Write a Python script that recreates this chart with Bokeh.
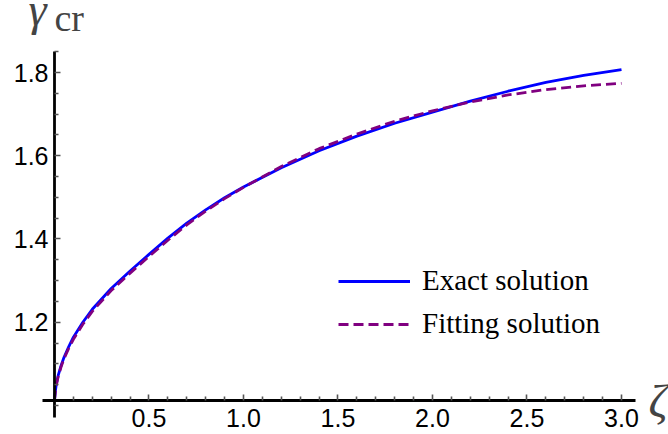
from bokeh.plotting import figure
from bokeh.models import (Range1d, FixedTicker, PrintfTickFormatter, Legend,
                          LegendItem, Label)
from bokeh.embed import file_html
from bokeh.resources import INLINE

# ---- data ----
zeta = [0, 0.005, 0.01, 0.02, 0.035, 0.05, 0.075, 0.1, 0.15, 0.2, 0.3, 0.4,
        0.5, 0.6, 0.7, 0.8, 0.9, 1.0, 1.2, 1.4, 1.6, 1.8, 2.0, 2.2, 2.4,
        2.6, 2.8, 3.0]
gamma_exact = [1.012, 1.036, 1.052, 1.073, 1.096, 1.115, 1.141, 1.164, 1.200,
               1.231, 1.281, 1.323, 1.363, 1.402, 1.438, 1.470, 1.499, 1.525,
               1.571, 1.612, 1.647, 1.678, 1.705, 1.731, 1.755, 1.776, 1.793,
               1.807]
gamma_fit = [1.012, 1.034, 1.049, 1.070, 1.093, 1.112, 1.137, 1.159, 1.195,
             1.226, 1.276, 1.318, 1.358, 1.397, 1.434, 1.467, 1.497, 1.524,
             1.574, 1.617, 1.652, 1.683, 1.708, 1.729, 1.746, 1.759, 1.768,
             1.774]

x_major = [0.5, 1.0, 1.5, 2.0, 2.5, 3.0]
x_minor = [0.1, 0.2, 0.3, 0.4, 0.6, 0.7, 0.8, 0.9, 1.1, 1.2, 1.3, 1.4, 1.6,
           1.7, 1.8, 1.9, 2.1, 2.2, 2.3, 2.4, 2.6, 2.7, 2.8, 2.9]
y_major = [1.2, 1.4, 1.6, 1.8]
y_minor = [1.0, 1.05, 1.1, 1.15, 1.25, 1.3, 1.35, 1.45, 1.5, 1.55, 1.65, 1.7,
           1.75, 1.85]
series_labels = ["Exact solution", "Fitting solution"]

# axes crossing point and axis extents (Mathematica-style axes)
x_axis_at = 1.013
y_axis_at = 0.0
x_axis_bounds = (-0.063, 3.075)
y_axis_bounds = (0.97, 1.851)

p = figure(width=668, height=434, output_backend="svg", toolbar_location=None,
           x_range=Range1d(-0.2857, 3.2487), y_range=Range1d(0.9302, 1.973),
           min_border_left=0, min_border_right=0, min_border_top=0,
           min_border_bottom=0)
p.outline_line_color = None
p.xgrid.visible = False
p.ygrid.visible = False
p.background_fill_color = "white"
p.border_fill_color = "white"

for ax, maj, mnr, loc, bnd in ((p.xaxis[0], x_major, x_minor, x_axis_at, x_axis_bounds),
                               (p.yaxis[0], y_major, y_minor, y_axis_at, y_axis_bounds)):
    ax.fixed_location = loc
    ax.bounds = bnd
    ax.ticker = FixedTicker(ticks=maj, minor_ticks=mnr)
    ax.formatter = PrintfTickFormatter(format="%.1f")
    ax.axis_line_color = "black"
    ax.axis_line_width = 2.8
    ax.major_tick_in = 6
    ax.major_tick_out = 0
    ax.minor_tick_in = 4
    ax.minor_tick_out = 0
    ax.major_tick_line_color = "#555555"
    ax.minor_tick_line_color = "#555555"
    ax.major_tick_line_width = 1.6
    ax.minor_tick_line_width = 1.6
    ax.major_label_text_font = "Liberation Sans"
    ax.major_label_text_font_size = "25px"
    ax.major_label_text_color = "black"
p.xaxis[0].major_label_standoff = 9
p.yaxis[0].major_label_standoff = 6

r1 = p.line(zeta, gamma_exact, line_color="#0000ff", line_width=2.8)
r2 = p.line(zeta, gamma_fit, line_color="#800080", line_width=2.8,
            line_dash="10 5")

legend = Legend(items=[LegendItem(label=series_labels[0], renderers=[r1]),
                       LegendItem(label=series_labels[1], renderers=[r2])],
                location=(338, 94), padding=0, margin=0, spacing=10,
                glyph_width=72, glyph_height=30, label_height=30,
                label_standoff=12, label_text_font="Liberation Serif",
                label_text_font_size="29px", label_text_color="black",
                border_line_color=None, background_fill_alpha=0)
p.add_layout(legend)

p.add_layout(Label(x=28, y=434 - 9, x_units="screen", y_units="screen", text="γ",
                   text_font="Liberation Serif", text_font_style="italic",
                   text_font_size="46px", text_baseline="alphabetic"))
p.add_layout(Label(x=54, y=434 - 17, x_units="screen", y_units="screen", text="cr",
                   text_font="Liberation Serif", text_font_size="38px",
                   text_baseline="alphabetic"))
p.add_layout(Label(x=648, y=434 - 400, x_units="screen", y_units="screen", text="ζ",
                   text_font="Liberation Serif", text_font_style="italic",
                   text_font_size="47px", text_baseline="alphabetic"))

open("out.html", "w").write(file_html(p, INLINE))
